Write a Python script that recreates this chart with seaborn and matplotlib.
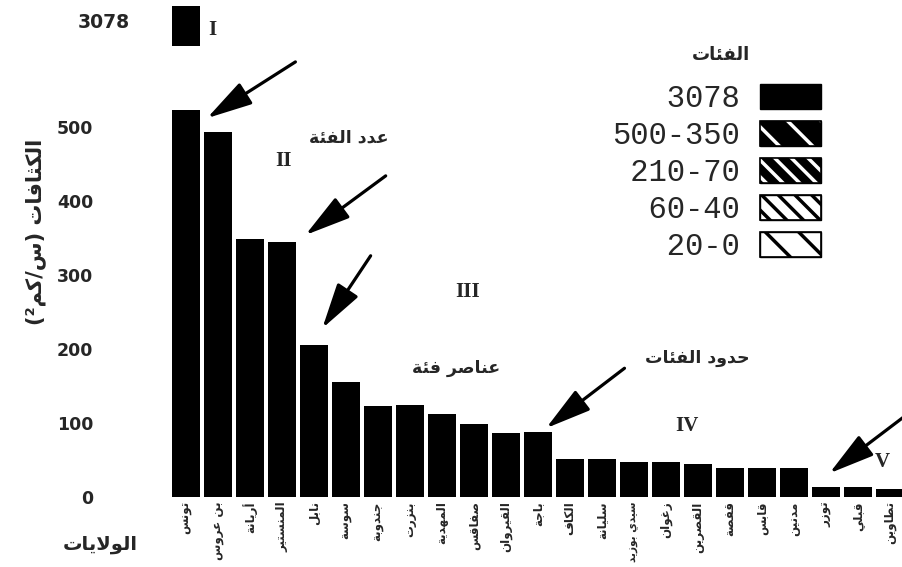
import matplotlib
matplotlib.use("Agg")
import matplotlib.pyplot as plt
import matplotlib.transforms as mtransforms
import pandas as pd
import seaborn as sns
from matplotlib.patches import Patch
from matplotlib.font_manager import FontProperties

# ---- data -------------------------------------------------------------
wilayas = ["تونس", "بن عروس", "أريانة", "المنستير", "نابل", "سوسة", "جندوبة",
           "بنزرت", "المهدية", "صفاقس", "القيروان", "باجة", "الكاف", "سليانة",
           "سيدي بوزيد", "زغوان", "القصرين", "قفصة", "قابس", "مدنين", "توزر",
           "قبلي", "تطاوين"]
density = [3078, 493, 349, 345, 205, 155, 123, 124, 112, 99, 86, 88,
           51, 51, 47, 47, 45, 39, 39, 39, 13, 13, 11]
y_ticks = [0, 100, 200, 300, 400, 500]
class_ranges = ["3078", "500-350", "210-70", "60-40", "20-0"]
class_numerals = ["I", "II", "III", "IV", "V"]

# ---- minimal Arabic shaping (presentation forms + right-to-left order) ----
_ORDER = [("آ", 2), ("أ", 2), ("ؤ", 2), ("إ", 2), ("ئ", 4), ("ا", 2), ("ب", 4),
          ("ة", 2), ("ت", 4), ("ث", 4), ("ج", 4), ("ح", 4), ("خ", 4), ("د", 2),
          ("ذ", 2), ("ر", 2), ("ز", 2), ("س", 4), ("ش", 4), ("ص", 4), ("ض", 4),
          ("ط", 4), ("ظ", 4), ("ع", 4), ("غ", 4), ("ف", 4), ("ق", 4), ("ك", 4),
          ("ل", 4), ("م", 4), ("ن", 4), ("ه", 4), ("و", 2), ("ى", 2), ("ي", 4)]
FORMS = {"ء": [chr(0xFE80)]}
_code = 0xFE81
for _ch, _n in _ORDER:
    FORMS[_ch] = [chr(_code + i) for i in range(_n)]
    _code += _n
LAM_ALEF = {"آ": 0xFEF5, "أ": 0xFEF7, "إ": 0xFEF9, "ا": 0xFEFB}
MIRROR = {"(": ")", ")": "("}


def shape(text):
    units = []
    i = 0
    while i < len(text):
        c = text[i]
        if c == "ل" and i + 1 < len(text) and text[i + 1] in LAM_ALEF:
            base = LAM_ALEF[text[i + 1]]
            units.append([chr(base), chr(base + 1)])
            i += 2
            continue
        units.append(FORMS.get(c, c))
        i += 1
    out = []
    for k, u in enumerate(units):
        if isinstance(u, str):
            out.append(MIRROR.get(u, u))
            continue
        prev = units[k - 1] if k > 0 else None
        nxt = units[k + 1] if k + 1 < len(units) else None
        jp = isinstance(prev, list) and len(prev) == 4
        jn = len(u) == 4 and isinstance(nxt, list) and len(nxt) >= 2
        if jp and jn:
            out.append(u[3])
        elif jp and len(u) >= 2:
            out.append(u[1])
        elif jn:
            out.append(u[2])
        else:
            out.append(u[0])
    return "".join(reversed(out))


# ---- figure -------------------------------------------------------------
sns.set_style("white")
plt.rcParams["font.family"] = ["DejaVu Sans"]
plt.rcParams["hatch.linewidth"] = 2.5

W, H = 903, 567
fig = plt.figure(figsize=(W / 100, H / 100), dpi=100)

df = pd.DataFrame({"wilaya": [shape(w) for w in wilayas], "density": density})

xlim = (-0.81, 22.4)
ax = fig.add_axes([160 / W, 70 / H, 743 / W, 387 / H])
sns.barplot(data=df, x="wilaya", y="density", color="black", saturation=1,
            width=0.88, linewidth=0, ax=ax)
ax.set_ylim(0, 523)
ax.set_xlim(*xlim)
ax.set_yticks(y_ticks)
ax.set_yticklabels([str(v) for v in y_ticks], fontsize=12.5, fontweight="bold")
ax.tick_params(axis="y", length=0, pad=48)
ax.tick_params(axis="x", length=0, pad=3, rotation=90, labelsize=8.6)
for t in ax.get_xticklabels():
    t.set_fontweight("bold")
    if len(t.get_text()) > 8:
        t.set_fontsize(7.6)
ax.set_xlabel("")
ax.set_ylabel("")
sns.despine(ax=ax, left=True, bottom=True)

# broken-axis strip holding the top of the tallest bar
ax_top = fig.add_axes([160 / W, (H - 46) / H, 743 / W, 40 / H])
sns.barplot(data=df, x="wilaya", y="density", color="black", saturation=1,
            width=0.88, linewidth=0, ax=ax_top)
ax_top.set_ylim(3030, 3078)
ax_top.set_xlim(*xlim)
ax_top.axis("off")
ax_top.text(-0.04, 0.6, str(density[0]), transform=ax_top.transAxes,
            ha="right", va="center", fontsize=13.5, fontweight="bold")
ax_top.text(0.84, 0.4, class_numerals[0],
            transform=mtransforms.blended_transform_factory(ax_top.transData, ax_top.transAxes),
            ha="center", va="center", family="Liberation Serif",
            fontsize=15, fontweight="bold")

# class numerals
serif = dict(family="Liberation Serif", fontsize=15, fontweight="bold",
             ha="center", va="center")
ax.text(3.04, 454, class_numerals[1], **serif)
ax.text(8.8, 277, class_numerals[2], **serif)
ax.text(15.64, 96, class_numerals[3], **serif)
ax.text(21.76, 47, class_numerals[4], **serif, clip_on=False)

# Arabic annotations
note = dict(fontsize=12.5, fontweight="bold", ha="center", va="center")
ax.text(5.08, 486, shape("عدد الفئة"), **note)
ax.text(8.43, 175, shape("عناصر فئة"), **note)
ax.text(15.96, 188, shape("حدود الفئات"), **note)

# arrows
arrow = dict(arrowstyle="-|>,head_length=1.4,head_width=0.38", lw=2.3,
             color="black", mutation_scale=20, shrinkA=0, shrinkB=0)
for tip, tail in [((0.66, 512), (3.42, 588)),
                  ((3.73, 354), (6.24, 434)),
                  ((4.26, 228), (5.77, 326)),
                  ((11.25, 93), (13.7, 174)),
                  ((20.1, 32), (22.6, 114))]:
    ax.annotate("", xy=tip, xytext=tail, arrowprops=arrow, annotation_clip=False)

# legend of classes
handles = [
    (Patch(facecolor="black", edgecolor="black", lw=1),),
    (Patch(facecolor="black", edgecolor="black", lw=1),
     Patch(facecolor="none", edgecolor="white", hatch="\\", lw=0),
     Patch(facecolor="none", edgecolor="black", lw=1.2)),
    (Patch(facecolor="black", edgecolor="black", lw=1),
     Patch(facecolor="none", edgecolor="white", hatch="\\\\", lw=0),
     Patch(facecolor="none", edgecolor="black", lw=1.2)),
    (Patch(facecolor="white", edgecolor="black", lw=1),
     Patch(facecolor="none", edgecolor="black", hatch="\\\\", lw=0),
     Patch(facecolor="none", edgecolor="black", lw=1.2)),
    (Patch(facecolor="white", edgecolor="black", lw=1),
     Patch(facecolor="none", edgecolor="black", hatch="\\", lw=0),
     Patch(facecolor="none", edgecolor="black", lw=1.2)),
]
width = max(len(s) for s in class_ranges)
labels = [s.rjust(width) for s in class_ranges]
fig.legend(handles, labels, loc="upper right", markerfirst=False,
           bbox_to_anchor=(821 / W, 1 - 84 / H), frameon=False,
           prop=FontProperties(family="Liberation Mono", size=22),
           handlelength=2.0, handleheight=0.88, handletextpad=0.65,
           labelspacing=0.23, borderpad=0, borderaxespad=0)
fig.text(721 / W, 1 - 55 / H, shape("الفئات"), ha="center", va="center",
         fontsize=13, fontweight="bold")

# axis titles
fig.text(36 / W, 1 - 232 / H, shape("الكثافات (س/كم²)"), rotation=90,
         ha="center", va="center", fontsize=15, fontweight="bold")
fig.text(100 / W, 1 - 545 / H, shape("الولايات"), ha="center", va="center",
         fontsize=14, fontweight="bold")

fig.savefig("out.png", dpi=100)
